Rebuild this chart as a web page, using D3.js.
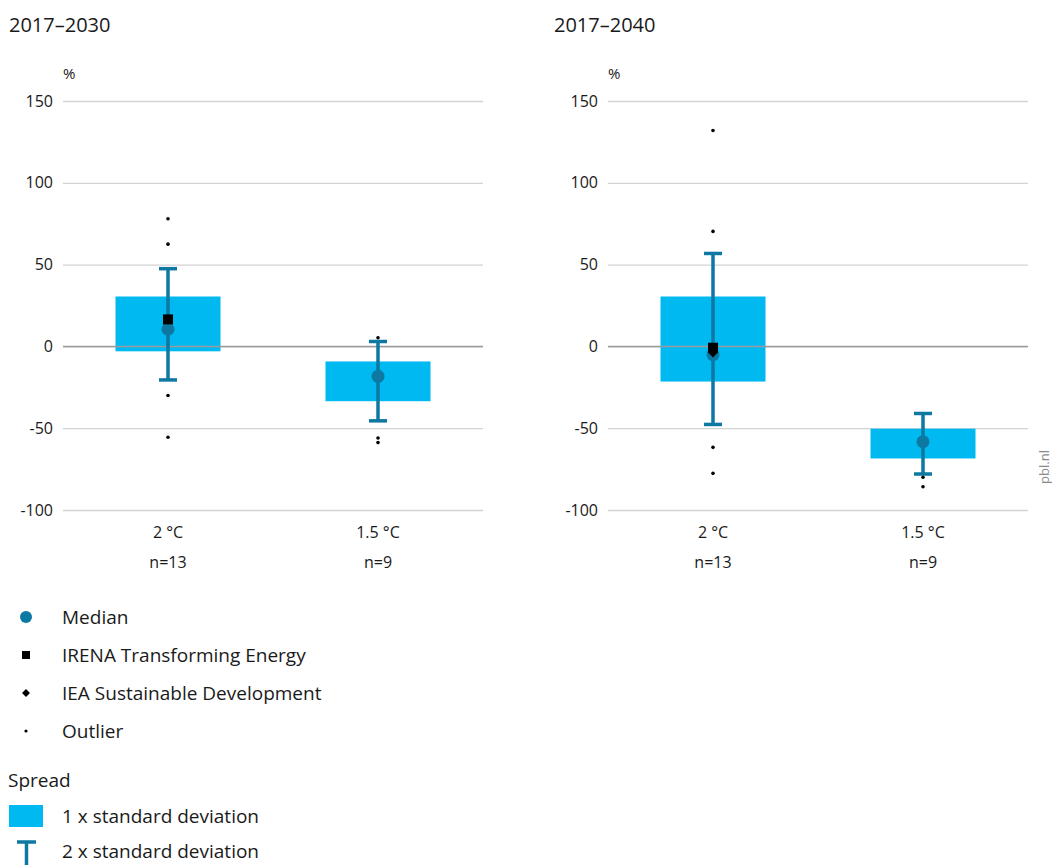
<!DOCTYPE html>
<html>
<head>
<meta charset="utf-8">
<script src="https://cdn.jsdelivr.net/npm/d3@7"></script>
<style>
  html, body { margin: 0; padding: 0; background: #fff; }
  svg { display: block; font-family: "Open Sans", "Noto Sans", sans-serif; }
</style>
</head>
<body>
<svg id="chart" width="1052" height="865"></svg>
<script>
// Period panels and scenario categories
const periods = ["2017–2030", "2017–2040"];
const categories = ["2 °C", "1.5 °C"];
const sampleSizes = ["n=13", "n=9"];
const yTicks = [-100, -50, 0, 50, 100, 150];

// Spread per period (rows) and category (columns), in %
const sd1Low  = [[-3, -33.5], [-21.5, -68.5]];
const sd1High = [[30.5, -9.2], [30.5, -50.3]];
const sd2Low  = [[-20.5, -45.5], [-47.7, -78]];
const sd2High = [[47.5, 3], [56.8, -41]];
const medians = [[10.5, -18.3], [-5, -58.3]];
const irena   = [[16.5, null], [-0.8, null]];
const iea     = [[null, null], [-3.8, null]];
const outliers = [
  [[78, 62.5, -30, -55.5], [5.3, -56, -58.8]],
  [[132, 70.3, -61.7, -77.6], [-80, -85.8]]
];

const boxColor = "#00b9f0";
const barColor = "#0d78a2";
const gridColor = "#d3d3d3";
const zeroColor = "#9a9a9a";
const textColor = "#1a1a1a";

const svg = d3.select("#chart");

const y = d3.scaleLinear().domain([-100, 150]).range([510, 101]);
const panelLeft = [63, 608];
const panelWidth = 420;

periods.forEach((period, p) => {
  const x0 = panelLeft[p];
  const x = d3.scaleBand()
    .domain(categories)
    .range([x0, x0 + panelWidth])
    .paddingInner(0.5)
    .paddingOuter(0.25);

  const g = svg.append("g");

  // Panel title and unit
  g.append("text")
    .attr("x", x0 - 54).attr("y", 32)
    .attr("font-size", 20).attr("fill", textColor)
    .text(period);
  g.append("text")
    .attr("x", x0).attr("y", 79)
    .attr("font-size", 15).attr("fill", textColor)
    .text("%");

  // Horizontal gridlines with value labels
  const yAxis = d3.axisLeft(y).tickValues(yTicks)
    .tickSize(-panelWidth).tickPadding(10).tickFormat(d => String(d));
  const ag = g.append("g").attr("transform", `translate(${x0},0)`).call(yAxis);
  ag.select(".domain").remove();
  ag.selectAll(".tick line").attr("stroke", gridColor).attr("stroke-width", 1.3);
  ag.selectAll(".tick text")
    .attr("font-size", 16).attr("fill", textColor)
    .attr("font-family", "'Open Sans', 'Noto Sans', sans-serif");

  // 1 x standard deviation boxes
  g.selectAll("rect.sd1").data(categories).join("rect")
    .attr("class", "sd1")
    .attr("x", d => x(d))
    .attr("width", x.bandwidth())
    .attr("y", (d, i) => y(sd1High[p][i]))
    .attr("height", (d, i) => y(sd1Low[p][i]) - y(sd1High[p][i]))
    .attr("fill", boxColor);

  // Zero line over the boxes
  g.append("line")
    .attr("x1", x0).attr("x2", x0 + panelWidth)
    .attr("y1", y(0)).attr("y2", y(0))
    .attr("stroke", zeroColor).attr("stroke-width", 1.5);

  const cx = d => x(d) + x.bandwidth() / 2;
  const capHalf = 9;

  // 2 x standard deviation whiskers
  categories.forEach((c, i) => {
    const wg = g.append("g").attr("stroke", barColor).attr("stroke-width", 3.5);
    wg.append("line")
      .attr("x1", cx(c)).attr("x2", cx(c))
      .attr("y1", y(sd2High[p][i])).attr("y2", y(sd2Low[p][i]));
    [sd2High[p][i], sd2Low[p][i]].forEach(v => {
      wg.append("line")
        .attr("x1", cx(c) - capHalf).attr("x2", cx(c) + capHalf)
        .attr("y1", y(v)).attr("y2", y(v));
    });
  });

  // Outliers
  categories.forEach((c, i) => {
    g.selectAll(null).data(outliers[p][i]).join("circle")
      .attr("cx", cx(c)).attr("cy", d => y(d))
      .attr("r", 1.8).attr("fill", "#000");
  });

  // Medians
  g.selectAll("circle.median").data(categories).join("circle")
    .attr("class", "median")
    .attr("cx", cx).attr("cy", (d, i) => y(medians[p][i]))
    .attr("r", 6.5).attr("fill", barColor);

  // IEA Sustainable Development
  categories.forEach((c, i) => {
    const v = iea[p][i];
    if (v === null) return;
    g.append("path")
      .attr("d", d3.symbol(d3.symbolDiamond2, 60)())
      .attr("transform", `translate(${cx(c)},${y(v)})`)
      .attr("fill", "#000");
  });

  // IRENA Transforming Energy
  categories.forEach((c, i) => {
    const v = irena[p][i];
    if (v === null) return;
    g.append("rect")
      .attr("x", cx(c) - 5).attr("y", y(v) - 5)
      .attr("width", 10).attr("height", 10)
      .attr("fill", "#000");
  });

  // Category labels
  categories.forEach((c, i) => {
    g.append("text")
      .attr("x", cx(c)).attr("y", 538)
      .attr("text-anchor", "middle").attr("font-size", 16).attr("fill", textColor)
      .text(c);
    g.append("text")
      .attr("x", cx(c)).attr("y", 568)
      .attr("text-anchor", "middle").attr("font-size", 16).attr("fill", textColor)
      .text(sampleSizes[i]);
  });
});

// Source mark
svg.append("text")
  .attr("transform", "translate(1049,467) rotate(-90)")
  .attr("text-anchor", "middle")
  .attr("font-size", 13).attr("fill", "#8a8a8a")
  .text("pbl.nl");

// Legend
const legendItems = ["Median", "IRENA Transforming Energy", "IEA Sustainable Development", "Outlier"];
const legendY = [617, 655, 693, 731];
const legendFont = 19;
const lg = svg.append("g");
legendItems.forEach((label, i) => {
  lg.append("text")
    .attr("x", 62).attr("y", legendY[i] + 7)
    .attr("font-size", legendFont).attr("fill", textColor)
    .text(label);
});
lg.append("circle").attr("cx", 26).attr("cy", legendY[0]).attr("r", 6).attr("fill", barColor);
lg.append("rect").attr("x", 22).attr("y", legendY[1] - 4).attr("width", 8).attr("height", 8).attr("fill", "#000");
lg.append("path").attr("d", d3.symbol(d3.symbolDiamond2, 40)())
  .attr("transform", `translate(26,${legendY[2]})`).attr("fill", "#000");
lg.append("circle").attr("cx", 26).attr("cy", legendY[3]).attr("r", 1.6).attr("fill", "#000");

lg.append("text").attr("x", 8).attr("y", 787)
  .attr("font-size", legendFont).attr("fill", textColor).text("Spread");
lg.append("rect").attr("x", 9).attr("y", 805).attr("width", 34).attr("height", 22).attr("fill", boxColor);
lg.append("text").attr("x", 62).attr("y", 823)
  .attr("font-size", legendFont).attr("fill", textColor).text("1 x standard deviation");
const tg = lg.append("g").attr("stroke", barColor).attr("stroke-width", 3.5);
tg.append("line").attr("x1", 17).attr("x2", 36).attr("y1", 842).attr("y2", 842);
tg.append("line").attr("x1", 26.5).attr("x2", 26.5).attr("y1", 842).attr("y2", 865);
lg.append("text").attr("x", 62).attr("y", 858)
  .attr("font-size", legendFont).attr("fill", textColor).text("2 x standard deviation");
</script>
</body>
</html>
